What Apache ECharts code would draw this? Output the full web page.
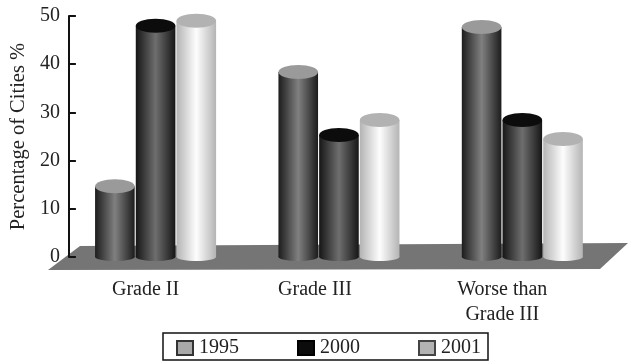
<!DOCTYPE html>
<html>
<head>
<meta charset="utf-8">
<style>
  html, body { margin: 0; padding: 0; background: #fff; }
  #chart { width: 628px; height: 363px; }
</style>
<script src="https://cdn.jsdelivr.net/npm/echarts@6/dist/echarts.min.js"></script>
</head>
<body>
<div id="chart"></div>
<script>
  const categories = ['Grade II', 'Grade III', 'Worse than\nGrade III'];
  const yTicks = [0, 10, 20, 30, 40, 50];
  const values1995 = [14.7, 38.4, 47.7];
  const values2000 = [48, 25.3, 28.4];
  const values2001 = [49, 28.4, 24.5];

  const font = '"Liberation Serif", serif';
  const textColor = '#222';

  /* category labels sit left of their bar groups in the original */
  const labelPadding = [[0, 20, 0, 0], [0, 48, 0, 0], [0, 40, 0, 0]];

  const looks = [
    { edge: '#1c1c1c', mid: '#808080', cap: '#9a9a9a', swatch: '#a8a8a8', border: '#333' },
    { edge: '#161616', mid: '#6e6e6e', cap: '#0c0c0c', swatch: '#0c0c0c', border: '#000' },
    { edge: '#b4b4b4', mid: '#fdfdfd', cap: '#b2b2b2', swatch: '#b2b2b2', border: '#444' }
  ];

  /* one cylinder: body, foot and cap */
  function cylinder(seriesIndex) {
    const look = looks[seriesIndex];
    return function (params, api) {
      const band = api.size([1, 0])[0];
      const top = api.coord([api.value(0), api.value(1)]);
      const base = api.coord([api.value(0), 0]);
      const cx = top[0] + (seriesIndex - 1) * band * 0.222;
      const rx = band * 0.108;
      const body = new echarts.graphic.LinearGradient(0, 0, 1, 0, [
        { offset: 0, color: look.edge },
        { offset: 0.5, color: look.mid },
        { offset: 1, color: look.edge }
      ]);
      return {
        type: 'group',
        children: [
          { type: 'ellipse', shape: { cx: cx, cy: base[1], rx: rx, ry: 4 }, style: { fill: body } },
          { type: 'rect', shape: { x: cx - rx, y: top[1], width: rx * 2, height: base[1] - top[1] }, style: { fill: body } },
          { type: 'ellipse', shape: { cx: cx, cy: top[1], rx: rx, ry: 7 }, style: { fill: look.cap } }
        ]
      };
    };
  }

  function setupSeries() {
    return [['1995', values1995], ['2000', values2000], ['2001', values2001]].map(function (item, index) {
      return {
        type: 'custom',
        name: item[0],
        coordinateSystem: 'cartesian2d',
        encode: { x: 0, y: 1 },
        renderItem: cylinder(index),
        itemStyle: { color: looks[index].swatch, borderColor: looks[index].border, borderWidth: 1.5 },
        data: item[1].map(function (v, i) { return [i, v]; })
      };
    });
  }

  const chart = echarts.init(document.getElementById('chart'), null, { renderer: 'canvas' });

  chart.setOption({
    animation: false,
    backgroundColor: '#fff',
    grid: { left: 62, top: 16, width: 552, height: 241 },
    /*地面*/
    graphic: [{
      type: 'polygon',
      z: 0,
      shape: { points: [[48, 270], [80, 246], [628, 243], [600, 269]] },
      style: { fill: '#757575' }
    }],
    legend: {
      left: 163,
      top: 333,
      padding: [5, 7, 2, 13],
      itemGap: 58,
      itemWidth: 16,
      itemHeight: 14,
      icon: 'rect',
      borderColor: '#111',
      borderWidth: 1.5,
      textStyle: { fontFamily: font, fontSize: 20, color: textColor, padding: [0, 0, 0, 1] },
      data: ['1995', '2000', '2001']
    },
    xAxis: {
      type: 'category',
      axisLine: { show: false },
      axisTick: { show: false },
      axisLabel: {
        interval: 0,
        margin: 20,
        fontFamily: font,
        fontSize: 18,
        lineHeight: 25,
        color: textColor,
        verticalAlign: 'top'
      },
      data: categories.map(function (c, i) {
        return { value: c, textStyle: { fontFamily: font, fontSize: 20, lineHeight: 25, color: textColor, padding: labelPadding[i] } };
      })
    },
    yAxis: {
      type: 'value',
      min: yTicks[0],
      max: yTicks[yTicks.length - 1],
      interval: 10,
      offset: -5,
      name: 'Percentage of Cities %',
      nameLocation: 'middle',
      nameGap: 39,
      nameRotate: 90,
      nameTextStyle: { fontFamily: font, fontSize: 20.5, color: textColor },
      axisLine: { show: true, lineStyle: { color: '#111', width: 2 } },
      axisTick: { show: true, inside: true, length: 7, lineStyle: { color: '#111', width: 2 } },
      axisLabel: { fontFamily: font, fontSize: 20, color: textColor, margin: 9, padding: [3, 0, 0, 0] },
      splitLine: { show: false }
    },
    series: setupSeries()
  });
</script>
</body>
</html>
